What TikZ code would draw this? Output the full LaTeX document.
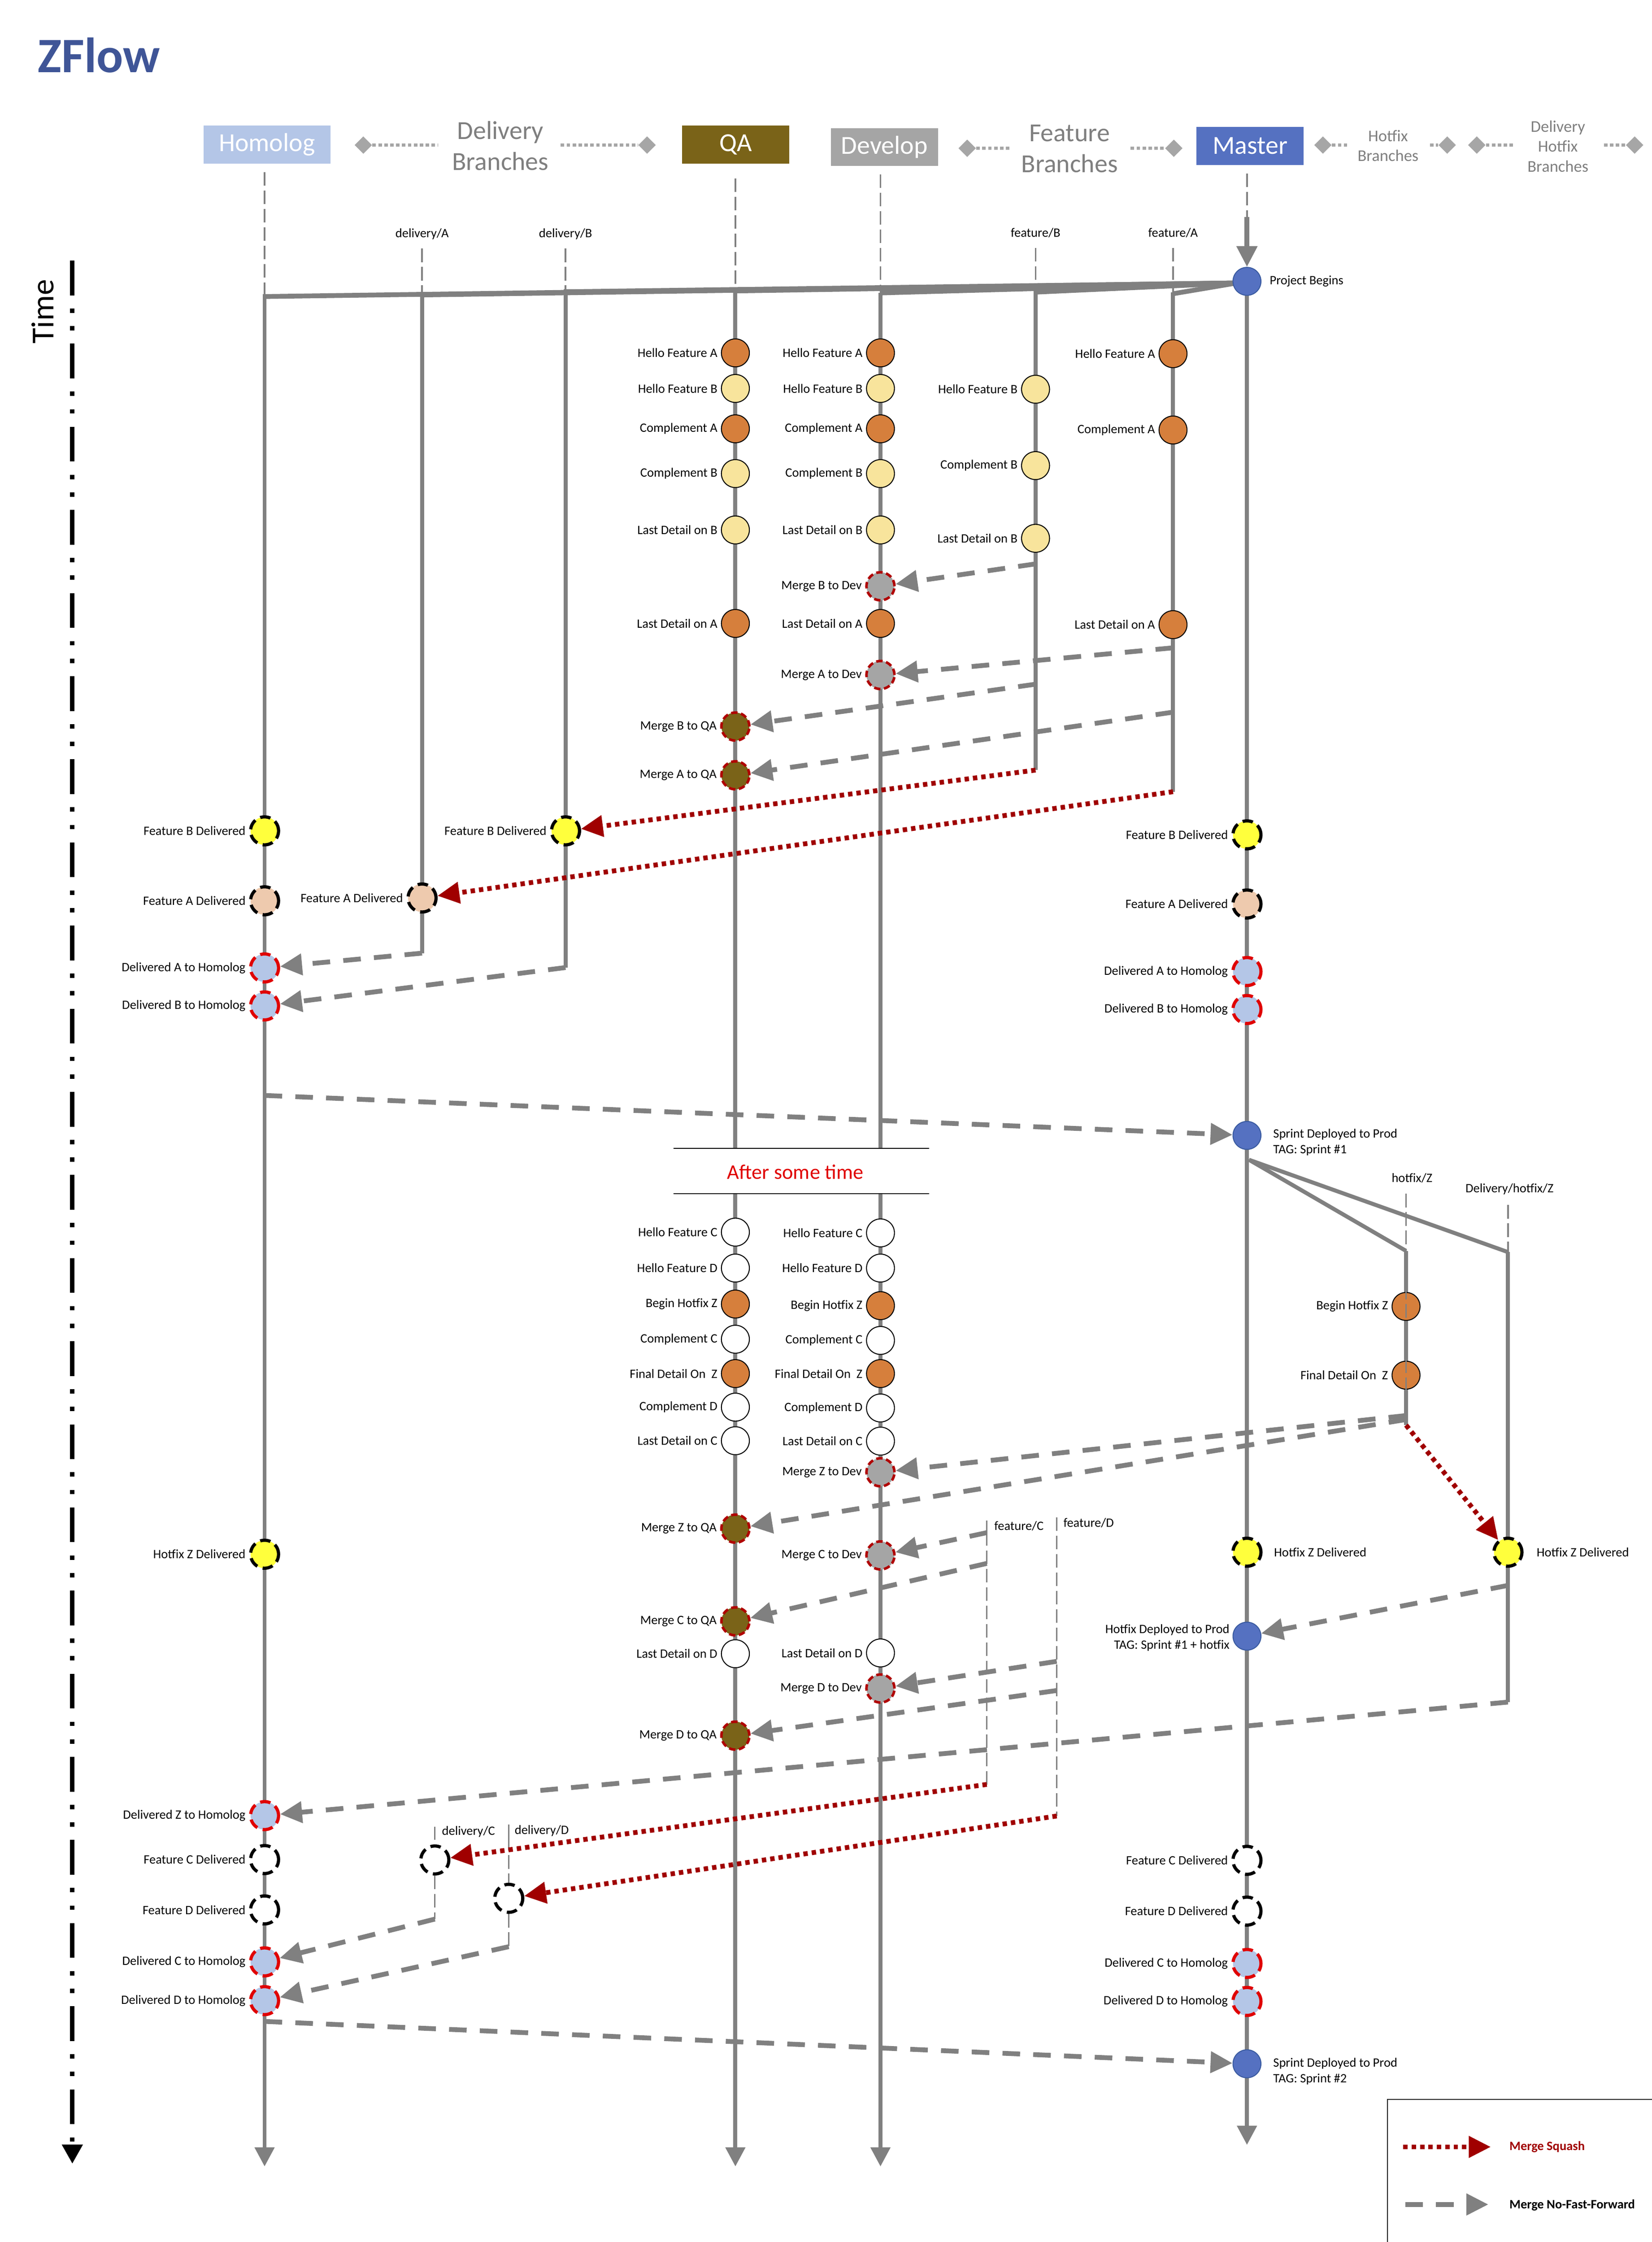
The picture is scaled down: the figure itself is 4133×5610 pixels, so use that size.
\documentclass[tikz,border=0pt]{standalone}
\usepackage{fontspec}
\setmainfont{Carlito}
\usetikzlibrary{arrows.meta,shapes.geometric}
\definecolor{lanegray}{HTML}{808080}
\definecolor{corange}{HTML}{D67F3C}
\definecolor{cyell}{HTML}{F8E49C}
\definecolor{cqa}{HTML}{7A6318}
\definecolor{cdev}{HTML}{A5A5A5}
\definecolor{chom}{HTML}{B4C6E7}
\definecolor{cpeach}{HTML}{EECAAE}
\definecolor{cbright}{HTML}{FFFF3C}
\definecolor{cblue}{HTML}{5571C1}
\definecolor{cbluedk}{HTML}{3A5BA0}
\definecolor{cmred}{HTML}{B00000}
\definecolor{cred}{HTML}{E00000}
\definecolor{csq}{HTML}{A00000}
\definecolor{ctitle}{HTML}{3F5597}
\definecolor{chead}{HTML}{7F7F7F}
\definecolor{cdiam}{HTML}{A6A6A6}
\pgfdeclarelayer{bg}
\pgfsetlayers{bg,main}
\tikzset{
 lane/.style={draw=lanegray, line width=2.5pt},
 lanearrow/.style={lane, -{Triangle[length=12pt,width=12pt]}},
 hdash/.style={draw=lanegray, line width=1pt, dash pattern=on 8.5pt off 3pt},
 tickl/.style={draw=lanegray, line width=1pt},
 dotl/.style={draw=cdiam, line width=2pt, dash pattern=on 2.2pt off 1.5pt},
 dia/.style={diamond, fill=cdiam, inner sep=0pt, minimum width=11pt, minimum height=11pt},
 cnode/.style={circle, minimum size=17.5pt, inner sep=0pt, draw=black, line width=0.6pt},
 oc/.style={cnode, fill=corange},
 yc/.style={cnode, fill=cyell},
 wc/.style={cnode, fill=white},
 mdev/.style={cnode, fill=cdev, draw=cmred, line width=1.6pt, dash pattern=on 4pt off 2.2pt},
 mqa/.style={cnode, fill=cqa, draw=cmred, line width=1.6pt, dash pattern=on 4pt off 2.2pt},
 dlv/.style={cnode, draw=black, line width=2pt, dash pattern=on 6.5pt off 3.5pt},
 fbd/.style={dlv, fill=cbright},
 fad/.style={dlv, fill=cpeach},
 fwd/.style={dlv, fill=white},
 dh/.style={cnode, fill=chom, draw=cred, line width=2pt, dash pattern=on 6.5pt off 3.5pt},
 mst/.style={cnode, fill=cblue, draw=cbluedk, line width=0.6pt},
 lbl/.style={font=\fontsize{8pt}{10pt}\selectfont, inner sep=0pt, text=black},
 every label/.style={lbl},
 label distance=2pt,
 merge/.style={draw=lanegray, line width=3pt, dash pattern=on 11pt off 8.25pt, -{Triangle[length=13.75pt,width=13pt]}},
 squash/.style={draw=csq, line width=3pt, dash pattern=on 2.75pt off 2.5pt, -{Triangle[length=13.75pt,width=13pt]}},
 hbox/.style={minimum height=23.75pt, minimum width=67pt, inner sep=0pt, text=white, font=\fontsize{16.25pt}{19pt}\selectfont},
 htxt/.style={text=chead, align=center, inner sep=0pt, font=\fontsize{16.25pt}{19.2pt}\selectfont},
}
\begin{document}
\begin{tikzpicture}[x=0.25pt,y=-0.25pt]
\path[use as bounding box] (0,0) rectangle (4133,5610);

% ---------- header ----------
\node[anchor=base west, inner sep=0pt, text=ctitle, font=\fontsize{31pt}{36pt}\selectfont\bfseries] (title) at (94,181) {ZFlow};
\node[hbox, fill=chom, minimum width=79.25pt] (hHom) at (668,362) {Homolog};
\node[hbox, fill=cqa] (hQA) at (1841,362) {QA};
\node[hbox, fill=cdev] (hDev) at (2213,368) {Develop};
\node[hbox, fill=cblue] (hMst) at (3128,365) {Master};
\node[htxt] (tDel) at (1252,365) {Delivery\\Branches};
\node[htxt] (tFea) at (2676,372) {Feature\\Branches};
\node[htxt, font=\fontsize{10.25pt}{12.25pt}\selectfont] (tHot) at (3473,365) {Hotfix\\Branches};
\node[htxt, font=\fontsize{10.25pt}{12.5pt}\selectfont] (tDHot) at (3898,366) {Delivery\\Hotfix\\Branches};

\node[dia] (d1) at (909,363) {};
\node[dia] (d2) at (1619,363) {};
\node[dia] (d3) at (2420,371) {};
\node[dia] (d4) at (2937,371) {};
\node[dia] (d5) at (3310,363) {};
\node[dia] (d6) at (3621,363) {};
\node[dia] (d7) at (3695,363) {};
\node[dia] (d8) at (4090,363) {};
\coordinate (e1) at (1095,363); \coordinate (e2) at (1403,363);
\coordinate (e3) at (2527,371); \coordinate (e4) at (2829,371);
\coordinate (e5) at (3370,363); \coordinate (e6) at (3578,363);
\coordinate (e7) at (3789,363); \coordinate (e8) at (4013,363);
\draw[dotl] (d1.east) -- (e1);
\draw[dotl] (e2) -- (d2.west);
\draw[dotl] (d3.east) -- (e3);
\draw[dotl] (e4) -- (d4.west);
\draw[dotl] (d5.east) -- (e5);
\draw[dotl] (e6) -- (d6.west);
\draw[dotl] (d7.east) -- (e7);
\draw[dotl] (e8) -- (d8.west);

% ---------- time axis ----------
\node[rotate=90, inner sep=0pt, font=\fontsize{20pt}{24pt}\selectfont] (time) at (107,780) {Time};
\coordinate (t0) at (181,652); \coordinate (t1) at (181,5414);
\draw[line width=2.75pt, dash pattern=on 21.75pt off 8.25pt on 2.75pt off 8.25pt on 2.75pt off 8.25pt, -{Triangle[length=12pt,width=12.5pt]}] (t0) -- (t1);

% ---------- lane labels ----------
\node[lbl] (lDA) at (1056,586) {delivery/A};
\node[lbl] (lDB) at (1415,586) {delivery/B};
\node[lbl] (lFB) at (2591,583) {feature/B};
\node[lbl] (lFA) at (2935,583) {feature/A};
\node[lbl] (lHZ) at (3533,2948) {hotfix/Z};
\node[lbl] (lDHZ) at (3777,2975) {Delivery/hotfix/Z};
\node[lbl, anchor=west] (lFC) at (2487,3818) {feature/C};
\node[lbl, anchor=west] (lFD) at (2660,3811) {feature/D};
\node[lbl, anchor=west] (lDC) at (1105,4583) {delivery/C};
\node[lbl, anchor=west] (lDD) at (1287,4581) {delivery/D};

% ---------- master ----------
\node[mst, label={[xshift=3pt]right:Project Begins}] (pb) at (3120,704) {};
\node[fbd, label=left:Feature B Delivered] (mFB) at (3120,2089) {};
\node[fad, label=left:Feature A Delivered] (mFA) at (3120,2262) {};
\node[dh, label=left:Delivered A to Homolog] (mDA) at (3120,2431) {};
\node[dh, label=left:Delivered B to Homolog] (mDB) at (3120,2526) {};
\node[mst] (s1) at (3120,2841) {};
\node[lbl, anchor=west, align=left] (s1l) at (3185,2858) {Sprint Deployed to Prod\\TAG: Sprint \#1};
\node[fbd, label={[xshift=5pt]right:Hotfix Z Delivered}] (mHZ) at (3120,3884) {};
\node[mst] (hdp) at (3120,4094) {};
\node[lbl, anchor=east, align=right] (hdpl) at (3077,4098) {Hotfix Deployed to Prod\\TAG: Sprint \#1 + hotfix};
\node[fwd, label=left:Feature C Delivered] (mFC) at (3120,4655) {};
\node[fwd, label=left:Feature D Delivered] (mFD) at (3120,4782) {};
\node[dh, label=left:Delivered C to Homolog] (mDC) at (3120,4913) {};
\node[dh, label=left:Delivered D to Homolog] (mDD) at (3120,5008) {};
\node[mst] (s2) at (3120,5164) {};
\node[lbl, anchor=west, align=left] (s2l) at (3185,5183) {Sprint Deployed to Prod\\TAG: Sprint \#2};

% ---------- homolog ----------
\node[fbd, label=left:Feature B Delivered] (hFB) at (662,2079) {};
\node[fad, label=left:Feature A Delivered] (hFA) at (662,2254) {};
\node[dh, label=left:Delivered A to Homolog] (hDA) at (662,2422) {};
\node[dh, label=left:Delivered B to Homolog] (hDB) at (662,2517) {};
\node[fbd, label=left:Hotfix Z Delivered] (hHZ) at (662,3889) {};
\node[dh, label=left:Delivered Z to Homolog] (hDZ) at (662,4543) {};
\node[fwd, label=left:Feature C Delivered] (hFC) at (662,4653) {};
\node[fwd, label=left:Feature D Delivered] (hFD) at (662,4779) {};
\node[dh, label=left:Delivered C to Homolog] (hDC) at (662,4909) {};
\node[dh, label=left:Delivered D to Homolog] (hDD) at (662,5006) {};

% ---------- delivery branches ----------
\node[fad, label=left:Feature A Delivered] (aFA) at (1056,2247) {};
\node[fbd, label=left:Feature B Delivered] (bFB) at (1415,2079) {};
\node[fwd] (cFC) at (1088,4654) {};
\node[fwd] (dFD) at (1273,4750) {};

% ---------- QA ----------
\node[oc, label=left:Hello Feature A] (q1) at (1840,883) {};
\node[yc, label=left:Hello Feature B] (q2) at (1840,972) {};
\node[oc, label=left:Complement A] (q3) at (1840,1073) {};
\node[yc, label=left:Complement B] (q4) at (1840,1185) {};
\node[yc, label=left:Last Detail on B] (q5) at (1840,1326) {};
\node[oc, label=left:Last Detail on A] (q6) at (1840,1560) {};
\node[mqa, label=left:Merge B to QA] (q7) at (1840,1818) {};
\node[mqa, label=left:Merge A to QA] (q8) at (1840,1940) {};
\node[wc, label=left:Hello Feature C] (q9) at (1840,3083) {};
\node[wc, label=left:Hello Feature D] (q10) at (1840,3173) {};
\node[oc, label=left:Begin Hotfix Z] (q11) at (1840,3263) {};
\node[wc, label=left:Complement C] (q12) at (1840,3351) {};
\node[oc, label=left:Final Detail On\ \ Z] (q13) at (1840,3437) {};
\node[wc, label=left:Complement D] (q14) at (1840,3521) {};
\node[wc, label=left:Last Detail on C] (q15) at (1840,3605) {};
\node[mqa, label=left:Merge Z to QA] (q16) at (1840,3825) {};
\node[mqa, label=left:Merge C to QA] (q17) at (1840,4057) {};
\node[wc, label=left:Last Detail on D] (q18) at (1840,4138) {};
\node[mqa, label=left:Merge D to QA] (q19) at (1840,4343) {};

% ---------- Develop ----------
\node[oc, label=left:Hello Feature A] (v1) at (2203,883) {};
\node[yc, label=left:Hello Feature B] (v2) at (2203,972) {};
\node[oc, label=left:Complement A] (v3) at (2203,1073) {};
\node[yc, label=left:Complement B] (v4) at (2203,1185) {};
\node[yc, label=left:Last Detail on B] (v5) at (2203,1326) {};
\node[mdev, label=left:Merge B to Dev] (v6) at (2203,1467) {};
\node[oc, label=left:Last Detail on A] (v7) at (2203,1560) {};
\node[mdev, label=left:Merge A to Dev] (v8) at (2203,1689) {};
\node[wc, label=left:Hello Feature C] (v9) at (2203,3085) {};
\node[wc, label=left:Hello Feature D] (v10) at (2203,3173) {};
\node[oc, label=left:Begin Hotfix Z] (v11) at (2203,3267) {};
\node[wc, label=left:Complement C] (v12) at (2203,3354) {};
\node[oc, label=left:Final Detail On\ \ Z] (v13) at (2203,3437) {};
\node[wc, label=left:Complement D] (v14) at (2203,3523) {};
\node[wc, label=left:Last Detail on C] (v15) at (2203,3606) {};
\node[mdev, label=left:Merge Z to Dev] (v16) at (2203,3684) {};
\node[mdev, label=left:Merge C to Dev] (v17) at (2203,3892) {};
\node[wc, label=left:Last Detail on D] (v18) at (2203,4136) {};
\node[mdev, label=left:Merge D to Dev] (v19) at (2203,4225) {};

% ---------- feature branches ----------
\node[yc, label=left:Hello Feature B] (b1) at (2591,974) {};
\node[yc, label=left:Complement B] (b2) at (2591,1165) {};
\node[yc, label=left:Last Detail on B] (b3) at (2591,1347) {};
\node[oc, label=left:Hello Feature A] (a1) at (2935,885) {};
\node[oc, label=left:Complement A] (a2) at (2935,1076) {};
\node[oc, label=left:Last Detail on A] (a3) at (2935,1563) {};

% ---------- hotfix ----------
\node[oc, label=left:Begin Hotfix Z] (z1) at (3518,3269) {};
\node[oc, label=left:Final Detail On\ \ Z] (z2) at (3518,3441) {};
\node[fbd, label={[xshift=6pt]right:Hotfix Z Delivered}] (y1) at (3773,3884) {};

% ---------- after some time ----------
\coordinate (as1) at (1685,2873); \coordinate (as2) at (2325,2873);
\coordinate (as3) at (1685,2987); \coordinate (as4) at (2325,2987);
\draw[line width=0.5pt] (as1) -- (as2);
\draw[line width=0.5pt] (as3) -- (as4);
\node[text=cred, inner sep=0pt, font=\fontsize{13pt}{15pt}\selectfont] (ast) at (1990,2932) {After some time};

% ---------- background: lanes ----------
\begin{pgfonlayer}{bg}
\fill[white] (0,0) rectangle (4133,5610);
\draw[hdash] (662,431) -- (662,736);
\draw[hdash] (1056,622) -- (1056,735);
\draw[hdash] (1415,622) -- (1415,724);
\draw[hdash] (1840,446) -- (1840,735);
\draw[hdash] (2203,436) -- (2203,735);
\draw[hdash] (2591,620) -- (2591,728);
\draw[hdash] (2935,620) -- (2935,731);
\draw[hdash] (3120,434) -- (3120,543);
\coordinate (mtop) at (3120,543);
\draw[draw=lanegray, line width=3pt, -{Triangle[length=13pt,width=12.5pt]}] (mtop) -- (pb.north);
\foreach \x/\y in {662/742, 1056/738, 1415/730, 1840/728, 2203/733, 2591/731, 2935/735}
  \draw[lane, line width=3pt] (3095,708) -- (\x,\y);
\draw[lanearrow] (662,736) -- (662,5421);
\draw[lane] (1056,735) -- (1056,2385);
\draw[lane] (1415,724) -- (1415,2421);
\draw[lane] (1840,728) -- (1840,2873);
\draw[lanearrow] (1840,2987) -- (1840,5421);
\draw[lane] (2203,733) -- (2203,2873);
\draw[lanearrow] (2203,2987) -- (2203,5421);
\draw[lane] (2591,728) -- (2591,1927);
\draw[lane] (2935,731) -- (2935,1981);
\draw[lanearrow] (pb.center) -- (3120,5367);
\draw[lane] (3125,2902) -- (3518,3130);
\draw[lane] (3125,2902) -- (3773,3133);
\draw[lane] (3518,3130) -- (3518,3566);
\draw[lane] (3773,3133) -- (3773,4259);
\draw[hdash] (3773,3015) -- (3773,3133);
\draw[tickl] (2469,3805) -- (2469,3834);
\draw[hdash] (2469,3834) -- (2469,4465);
\draw[tickl] (2644,3797) -- (2644,3830);
\draw[hdash] (2644,3843) -- (2644,4544);
\draw[tickl] (1088,4571) -- (1088,4603);
\draw[hdash] (cFC.south) -- (1088,4802);
\draw[tickl] (1273,4565) -- (1273,4596);
\draw[hdash] (1273,4596) -- (dFD.north);
\draw[hdash] (dFD.south) -- (1273,4871);
\end{pgfonlayer}
\draw[hdash] (3518,2987) -- (3518,3560);

% ---------- merges (no fast forward) ----------
\coordinate (fb1) at (2591,1411); \draw[merge] (fb1) -- (v6);
\coordinate (fa1) at (2935,1621); \draw[merge] (fa1) -- (v8);
\coordinate (fb2) at (2591,1712); \draw[merge] (fb2) -- (q7);
\coordinate (fa2) at (2935,1782); \draw[merge] (fa2) -- (q8);
\coordinate (da1) at (1056,2385); \draw[merge] (da1) -- (hDA);
\coordinate (db1) at (1415,2421); \draw[merge] (db1) -- (hDB);
\coordinate (h1) at (662,2741); \draw[merge] (h1) -- (s1);
\coordinate (hz1) at (3518,3542); \draw[merge] (hz1) -- (v16);
\coordinate (hz2) at (3518,3552); \draw[merge] (hz2) -- (q16);
\coordinate (fc1) at (2469,3835); \draw[merge] (fc1) -- (v17);
\coordinate (fc2) at (2469,3912); \draw[merge] (fc2) -- (q17);
\coordinate (fd1) at (2644,4157); \draw[merge] (fd1) -- (v19);
\coordinate (fd2) at (2644,4230); \draw[merge] (fd2) -- (q19);
\coordinate (dz1) at (3773,3967); \draw[merge] (dz1) -- (hdp);
\coordinate (dz2) at (3773,4259); \draw[merge] (dz2) -- (hDZ);
\coordinate (dc1) at (1088,4802); \draw[merge] (dc1) -- (hDC);
\coordinate (dd1) at (1273,4871); \draw[merge] (dd1) -- (hDD);
\coordinate (h2) at (662,5058); \draw[merge] (h2) -- (s2);

% ---------- squash merges ----------
\coordinate (fbE) at (2591,1927); \draw[squash] (fbE) -- (bFB);
\coordinate (faE) at (2935,1981); \draw[squash] (faE) -- (aFA);
\coordinate (hzE) at (3518,3566); \draw[squash] (hzE) -- (y1);
\coordinate (fcE) at (2469,4465); \draw[squash] (fcE) -- (cFC);
\coordinate (fdE) at (2644,4544); \draw[squash] (fdE) -- (dFD);

% ---------- legend ----------
\coordinate (lb1) at (4133,5253); \coordinate (lb2) at (3471,5253); \coordinate (lb3) at (3471,5610);
\draw[line width=0.6pt] (lb1) -- (lb2) -- (lb3);
\coordinate (lg1) at (3511,5372); \coordinate (lg2) at (3730,5372);
\draw[squash] (lg1) -- (lg2);
\node[anchor=west, inner sep=0pt, text=csq, font=\fontsize{8pt}{10pt}\selectfont\bfseries] (lgt1) at (3776,5372) {Merge Squash};
\coordinate (lg3) at (3516,5516); \coordinate (lg4) at (3724,5516);
\draw[merge] (lg3) -- (lg4);
\node[anchor=west, inner sep=0pt, text=black, font=\fontsize{8pt}{10pt}\selectfont\bfseries] (lgt2) at (3776,5518) {Merge No-Fast-Forward};
\end{tikzpicture}
\end{document}
